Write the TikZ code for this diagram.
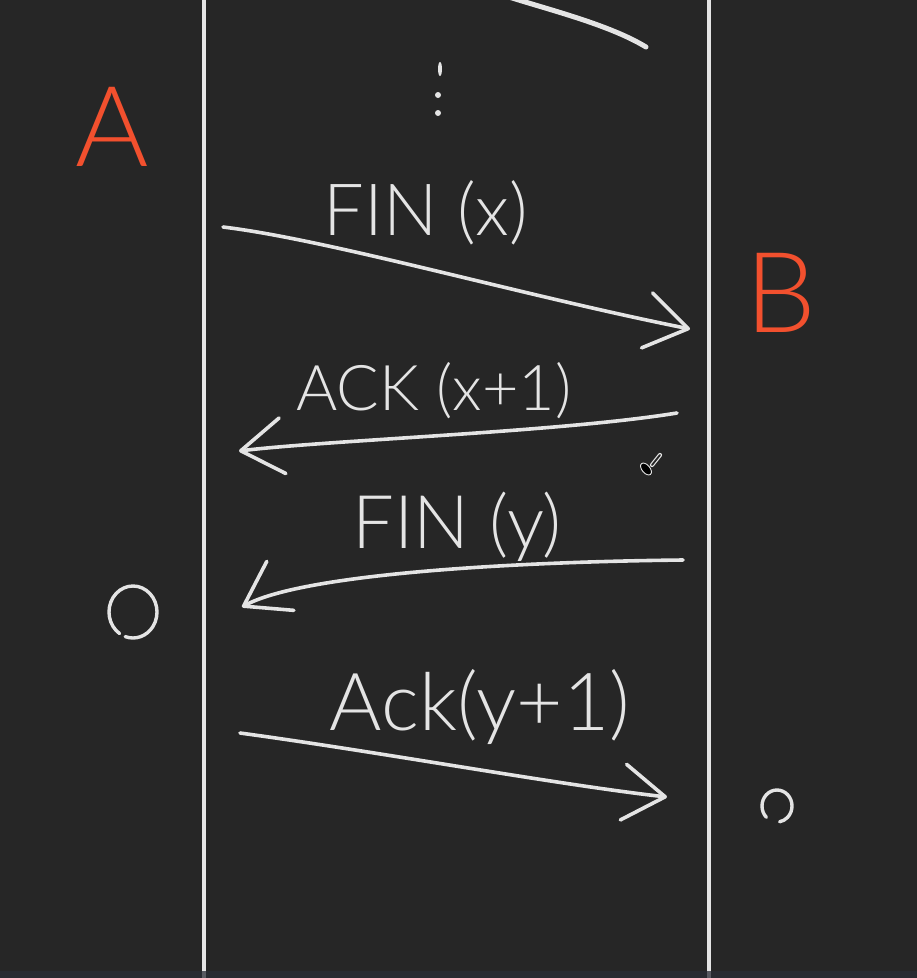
\documentclass[tikz,border=0pt]{standalone}
\usepackage{fontspec}
\setmainfont{Lato Light}
\usetikzlibrary{arrows.meta}
\definecolor{cbg}{HTML}{262626}
\definecolor{cbar}{HTML}{2A2D36}
\definecolor{cchalk}{HTML}{E4E4E4}
\definecolor{cred}{HTML}{F2502E}
\tikzset{
  lifeline/.style={draw=cchalk, line width=3.5pt},
  msg/.style={
    draw=cchalk, line width=3.6pt, line cap=round,
    -{Straight Barb[length=42pt, width=56pt, round]},
  },
  lbl/.style={text=cchalk, inner sep=0pt, anchor=base,
    font=\fontsize{#1}{#1}\selectfont},
  host/.style={text=cred, inner sep=0pt, anchor=base,
    font=\fontsize{112}{112}\selectfont},
  ring/.style={draw=cchalk, line width=3.4pt, line cap=round},
}
\begin{document}
\begin{tikzpicture}[x=1pt, y=-1pt]
\useasboundingbox[fill=cbg] (0,0) rectangle (917,978);

%% ── Lifelines ─────────────────────────────────────────────
\coordinate (aTop) at (204,0);
\coordinate (aBot) at (204,978);
\coordinate (bTop) at (709,0);
\coordinate (bBot) at (709,978);
\draw[lifeline] (aTop) -- (aBot);
\draw[lifeline] (bTop) -- (bBot);
\fill[cbar, fill opacity=0.75] (0,971) rectangle (917,978);

%% ── Hosts ─────────────────────────────────────────────────
\node[host] (hostA) at (112,166) {A};
\node[host] (hostB) at (781,332) {B};

%% ── Earlier messages (cut off) ────────────────────────────
\coordinate (prevS) at (509,-3);
\coordinate (prevE) at (646,47);
\draw[msg, -, line width=5pt] (prevS) .. controls (550,10) and (610,25) .. (prevE);
\fill[cchalk] (440,69) ellipse (2 and 7);
\fill[cchalk] (438,95) circle (3);
\fill[cchalk] (438,113) circle (3);

%% ── FIN (x) ───────────────────────────────────────────────
\coordinate (finxS) at (223,227);
\coordinate (finxE) at (690,329);
\draw[msg] (finxS) .. controls (330,240) and (520,295) .. (finxE);
\node[lbl=72] (finx) at (426,235) {FIN (x)};

%% ── ACK (x+1) ─────────────────────────────────────────────
\coordinate (ackxS) at (677,413);
\coordinate (ackxE) at (239,451);
\draw[msg] (ackxS) .. controls (560,432) and (330,440) .. (ackxE);
\node[lbl=63] (ackx) at (434,410) {ACK (x+1)};

%% ── FIN (y) ───────────────────────────────────────────────
\coordinate (finyS) at (683,560);
\coordinate (finyE) at (242,607);
\draw[msg] (finyS) .. controls (500,562) and (300,575) .. (finyE);
\node[lbl=74] (finy) at (457,548) {FIN (y)};

%% ── Ack(y+1) ──────────────────────────────────────────────
\coordinate (ackyS) at (240,733);
\coordinate (ackyE) at (667,797);
\draw[msg] (ackyS) .. controls (380,752) and (560,785) .. (ackyE);
\node[lbl=80] (acky) at (480,730) {Ack(y+1)};

%% ── Closed marks ──────────────────────────────────────────
\draw[ring] ([shift={(124:24 and 26)}]133,612)
  arc[start angle=124, end angle=469, x radius=24, y radius=26];
\draw[ring] ([shift={(135:15 and 16)}]777,806)
  arc[start angle=135, end angle=440, x radius=15, y radius=16];

%% ── Pen cursor ────────────────────────────────────────────
\draw[cchalk, line width=4.2pt, line cap=round] (660,455) -- (652,465);
\draw[cbg, line width=1.8pt, line cap=round] (660,455) -- (652,465);
\draw[cchalk, fill=black, line width=0.9pt, rotate around={-50:(646,469)}]
  (646,469) ellipse (7 and 4);

\end{tikzpicture}
\end{document}
